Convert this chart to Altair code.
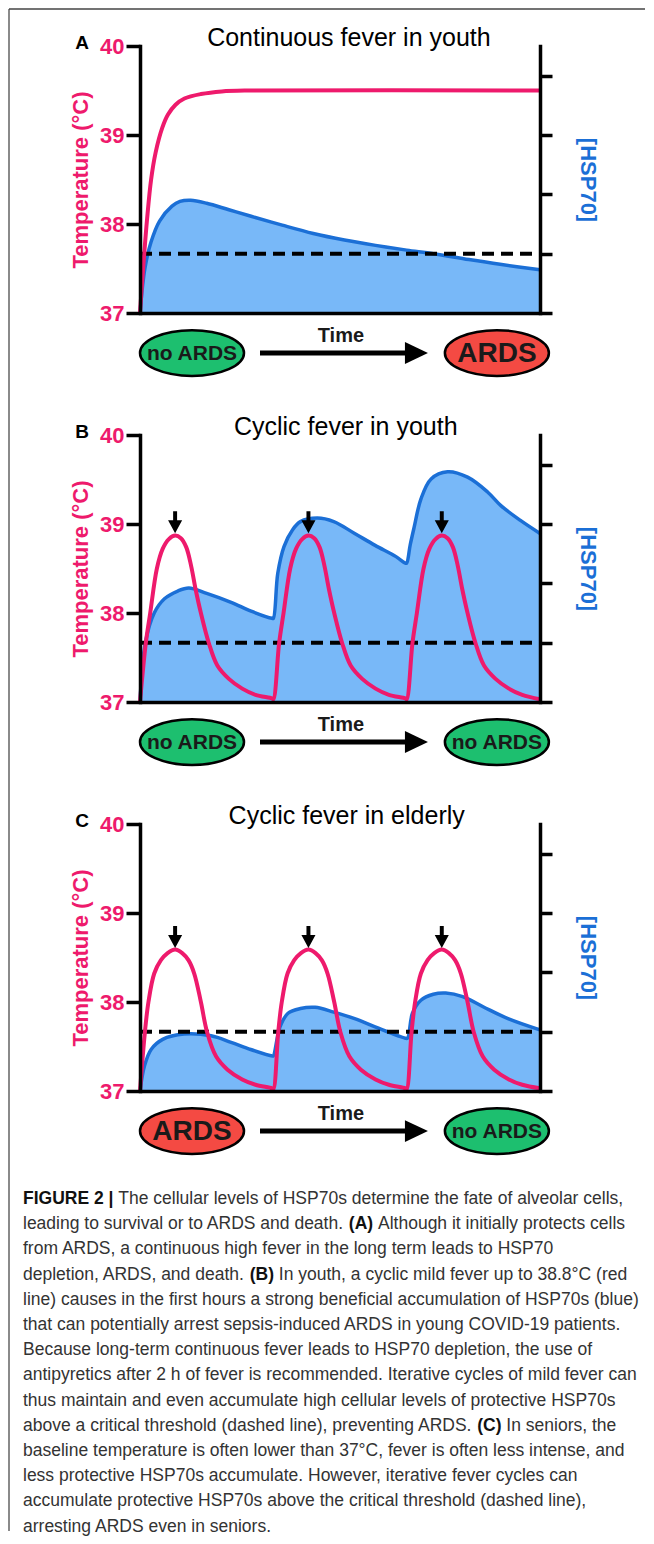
import altair as alt
import pandas as pd

FONT = "Liberation Sans"
PINK = "#ee1a6c"
BLUE_LINE = "#1b6fd6"
BLUE_FILL = "#78b8f8"
GREEN = "#1dbf6f"
RED = "#f44a43"
INTERP = "catmull-rom"

# ---------------- data ----------------
# Panel A: continuous fever in youth
A_T_TEMP = [0, 0.07, 0.16, 0.25, 0.35, 0.5, 0.63, 0.8, 1.0, 1.37, 1.84, 2.5, 9.0]
A_TEMP = [37.0, 37.5, 38.06, 38.5, 38.8, 39.08, 39.23, 39.34, 39.41, 39.46, 39.49, 39.5, 39.5]
A_T_HSP = [0, 0.11, 0.25, 0.44, 0.72, 0.9, 1.14, 1.5, 2.0, 2.5, 3.2, 3.9, 4.6, 5.3, 6.0, 6.6, 7.4, 8.1, 9.0]
A_HSP = [0, 0.75, 1.2, 1.55, 1.8, 1.88, 1.9, 1.85, 1.74, 1.63, 1.48, 1.34, 1.23, 1.14, 1.06, 1.0, 0.9, 0.82, 0.73]

# Panel B: cyclic fever in youth
B_T_TEMP = [0, 0.13, 0.23, 0.38, 0.51, 0.65, 0.79, 0.92, 1.04, 1.15, 1.25, 1.37, 1.55, 1.74, 2.0, 2.3, 2.6, 2.97,
            3.0, 3.13, 3.23, 3.38, 3.51, 3.65, 3.79, 3.92, 4.04, 4.15, 4.25, 4.37, 4.55, 4.74, 5.0, 5.3, 5.6, 5.97,
            6.0, 6.13, 6.23, 6.38, 6.51, 6.65, 6.79, 6.92, 7.04, 7.15, 7.25, 7.37, 7.55, 7.74, 8.0, 8.3, 8.6, 9.0]
B_TEMP = [37.0, 37.66, 38.0, 38.5, 38.72, 38.83, 38.87, 38.84, 38.74, 38.53, 38.27, 38.0, 37.66, 37.41, 37.26, 37.15, 37.08, 37.04,
          37.03, 37.66, 38.0, 38.5, 38.72, 38.83, 38.87, 38.84, 38.74, 38.53, 38.27, 38.0, 37.66, 37.41, 37.26, 37.15, 37.08, 37.04,
          37.03, 37.66, 38.0, 38.5, 38.72, 38.83, 38.87, 38.84, 38.74, 38.53, 38.27, 38.0, 37.66, 37.41, 37.26, 37.15, 37.08, 37.03]
B_T_HSP = [0, 0.12, 0.32, 0.55, 0.85, 1.1, 1.5, 2.05, 2.5, 2.97,
           3.0, 3.1, 3.24, 3.43, 3.61, 3.99, 4.36, 4.83, 5.29, 5.76, 5.97,
           6.0, 6.08, 6.17, 6.32, 6.55, 6.92, 7.37, 7.82, 8.12, 8.56, 9.0]
B_HSP = [0, 1.0, 1.5, 1.74, 1.87, 1.92, 1.83, 1.68, 1.53, 1.41,
         1.41, 2.17, 2.62, 2.9, 3.04, 3.1, 3.04, 2.84, 2.64, 2.45, 2.34,
         2.34, 2.65, 2.95, 3.42, 3.76, 3.88, 3.79, 3.54, 3.31, 3.06, 2.84]

# Panel C: cyclic fever in elderly
C_T_TEMP = [0, 0.11, 0.19, 0.32, 0.47, 0.62, 0.79, 0.95, 1.09, 1.22, 1.37, 1.51, 1.71, 1.97, 2.3, 2.6, 2.97,
            3.0, 3.11, 3.19, 3.32, 3.47, 3.62, 3.79, 3.95, 4.09, 4.22, 4.37, 4.51, 4.71, 4.97, 5.3, 5.6, 5.97,
            6.0, 6.11, 6.19, 6.32, 6.47, 6.62, 6.79, 6.95, 7.09, 7.22, 7.37, 7.51, 7.71, 7.97, 8.3, 8.6, 9.0]
C_TEMP = [37.0, 37.66, 38.0, 38.32, 38.47, 38.55, 38.59, 38.55, 38.47, 38.32, 38.0, 37.66, 37.39, 37.24, 37.13, 37.07, 37.03,
          37.02, 37.66, 38.0, 38.32, 38.47, 38.55, 38.59, 38.55, 38.47, 38.32, 38.0, 37.66, 37.39, 37.24, 37.13, 37.07, 37.03,
          37.02, 37.66, 38.0, 38.32, 38.47, 38.55, 38.59, 38.55, 38.47, 38.32, 38.0, 37.66, 37.39, 37.24, 37.13, 37.07, 37.03]
C_T_HSP = [0, 0.1, 0.25, 0.51, 0.99, 1.6, 2.05, 2.49, 2.98,
           3.0, 3.15, 3.33, 3.61, 3.94, 4.36, 4.83, 5.29, 5.97,
           6.02, 6.13, 6.32, 6.6, 6.88, 7.26, 7.72, 8.28, 9.0]
C_HSP = [0, 0.42, 0.7, 0.87, 0.96, 0.93, 0.82, 0.7, 0.59,
         0.59, 1.08, 1.31, 1.39, 1.41, 1.33, 1.22, 1.08, 0.89,
         0.89, 1.31, 1.53, 1.63, 1.65, 1.59, 1.42, 1.22, 1.03]

THRESHOLD_HSP = 1.0
TEMP_TICKS = [37, 38, 39, 40]
HSP_TICKS = [0, 1, 2, 3, 4]

B_ARROW_T = [0.79, 3.79, 6.79]
B_ARROW_TEMP = [39.02, 39.02, 39.02]
C_ARROW_T = [0.79, 3.79, 6.79]
C_ARROW_TEMP = [38.73, 38.73, 38.73]

TITLES = ["Continuous fever in youth", "Cyclic fever in youth", "Cyclic fever in elderly"]
LETTERS = ["A", "B", "C"]
OUTCOMES = [["no ARDS", "ARDS"], ["no ARDS", "no ARDS"], ["ARDS", "no ARDS"]]

CAPTION = [
    [("FIGURE 2 | ", True), ("The cellular levels of HSP70s determine the fate of alveolar cells,", False)],
    [("leading to survival or to ARDS and death. ", False), ("(A)", True), (" Although it initially protects cells", False)],
    [("from ARDS, a continuous high fever in the long term leads to HSP70", False)],
    [("depletion, ARDS, and death. ", False), ("(B)", True), (" In youth, a cyclic mild fever up to 38.8°C (red", False)],
    [("line) causes in the first hours a strong beneficial accumulation of HSP70s (blue)", False)],
    [("that can potentially arrest sepsis-induced ARDS in young COVID-19 patients.", False)],
    [("Because long-term continuous fever leads to HSP70 depletion, the use of", False)],
    [("antipyretics after 2 h of fever is recommended. Iterative cycles of mild fever can", False)],
    [("thus maintain and even accumulate high cellular levels of protective HSP70s", False)],
    [("above a critical threshold (dashed line), preventing ARDS. ", False), ("(C)", True), (" In seniors, the", False)],
    [("baseline temperature is often lower than 37°C, fever is often less intense, and", False)],
    [("less protective HSP70s accumulate. However, iterative fever cycles can", False)],
    [("accumulate protective HSP70s above the critical threshold (dashed line),", False)],
    [("arresting ARDS even in seniors.", False)],
]

# ---------------- styling / layout ----------------
W, H = 400, 267
SPACING = 122
ELL_T = [1.17, 8.03]
ELL_TEMP = 36.55
ELLIPSE = "M -1 0 A 1 0.44 0 1 1 1 0 A 1 0.44 0 1 1 -1 0 Z"
DOWN_ARROW = "M -0.18 -1 L 0.18 -1 L 0.18 -0.18 L 0.64 -0.18 L 0 1 L -0.64 -0.18 L -0.18 -0.18 Z"
RIGHT_HEAD = "M -1 -0.95 L 1 0 L -1 0.95 Z"

xs = alt.Scale(domain=[0, 9], nice=False, zero=False)
ys = alt.Scale(domain=[37, 40], nice=False, zero=False)
hs = alt.Scale(domain=[0, 4.5], nice=False, zero=False)

x_axis = alt.Axis(title=None, labels=False, ticks=False, grid=False, domain=True,
                  domainColor="black", domainWidth=3.5, zindex=2)
y_axis = alt.Axis(title="Temperature (°C)", values=TEMP_TICKS, format="d", orient="left", grid=False,
                  domainColor="black", domainWidth=3.5, domainCap="square",
                  tickColor="black", tickWidth=3.5, tickSize=14,
                  labelColor=PINK, labelFont=FONT, labelFontSize=22, labelFontWeight="bold", labelPadding=2,
                  titleColor=PINK, titleFont=FONT, titleFontSize=22, titleFontWeight="bold", titlePadding=7,
                  zindex=2)
h_axis = alt.Axis(title="[HSP70]", values=HSP_TICKS, orient="right", labels=False, grid=False,
                  domainColor="black", domainWidth=3.5, domainCap="square",
                  tickColor="black", tickWidth=3.5, tickSize=12,
                  titleColor=BLUE_LINE, titleFont=FONT, titleFontSize=22, titleFontWeight="bold",
                  titlePadding=22, zindex=2)


def X(field="t"):
    return alt.X(f"{field}:Q", scale=xs, axis=x_axis)


def Yt(field="temp"):
    return alt.Y(f"{field}:Q", scale=ys, axis=y_axis)


def Yh(field="hsp"):
    return alt.Y(f"{field}:Q", scale=hs, axis=h_axis)


def panel(idx, t_temp, temp, t_hsp, hsp, title_t, arrow_t=None, arrow_temp=None):
    dft = pd.DataFrame({"t": t_temp, "temp": temp})
    dfh = pd.DataFrame({"t": t_hsp, "hsp": hsp})
    thr = pd.DataFrame({"t0": [0], "t1": [9], "hsp": [THRESHOLD_HSP]})

    area = alt.Chart(dfh).mark_area(color=BLUE_FILL, interpolate=INTERP).encode(x=X(), y=Yh())
    bline = alt.Chart(dfh).mark_line(color=BLUE_LINE, strokeWidth=3.5, interpolate=INTERP).encode(x=X(), y=Yh())
    dashed = alt.Chart(thr).mark_rule(color="black", strokeWidth=4, strokeDash=[12, 7]).encode(
        x=X("t0"), x2="t1:Q", y=Yh())
    right = alt.layer(area, bline, dashed)

    pline = alt.Chart(dft).mark_line(color=PINK, strokeWidth=4, interpolate=INTERP).encode(x=X(), y=Yt())
    layers = [pline]
    if arrow_t is not None:
        dfa = pd.DataFrame({"t": arrow_t, "temp": arrow_temp})
        layers.append(alt.Chart(dfa).mark_point(shape=DOWN_ARROW, filled=True, size=484, color="black",
                                                 opacity=1).encode(x=X(), y=Yt()))
    labels = OUTCOMES[idx]
    dfe = pd.DataFrame({"t": ELL_T, "temp": [ELL_TEMP, ELL_TEMP], "label": labels,
                        "col": [GREEN if l == "no ARDS" else RED for l in labels],
                        "fs": [21 if l == "no ARDS" else 28 for l in labels]})
    layers.append(alt.Chart(dfe).mark_point(shape=ELLIPSE, filled=True, size=10816, stroke="black",
                                            strokeWidth=2.5, opacity=1).encode(
        x=X(), y=Yt(), fill=alt.Fill("col:N", scale=None)))
    layers.append(alt.Chart(dfe).mark_text(font=FONT, fontWeight="bold", color="#1a1a1a",
                                           baseline="middle", align="center", dy=1).encode(
        x=X(), y=Yt(), text="label:N", size=alt.Size("fs:Q", scale=None)))
    # time arrow
    dfr = pd.DataFrame({"t0": [2.7], "t1": [6.1], "temp": [ELL_TEMP]})
    layers.append(alt.Chart(dfr).mark_rule(color="black", strokeWidth=5).encode(
        x=X("t0"), x2="t1:Q", y=Yt()))
    dfhd = pd.DataFrame({"t": [6.22], "temp": [ELL_TEMP]})
    layers.append(alt.Chart(dfhd).mark_point(shape=RIGHT_HEAD, filled=True, size=529, color="black",
                                             opacity=1).encode(x=X(), y=Yt()))
    dftx = pd.DataFrame({"t": [4.52], "temp": [36.74], "label": ["Time"]})
    layers.append(alt.Chart(dftx).mark_text(font=FONT, fontWeight="bold", fontSize=20, color="#1a1a1a",
                                            baseline="middle").encode(x=X(), y=Yt(), text="label:N"))
    # panel title and letter
    dftt = pd.DataFrame({"t": [title_t], "temp": [40.09], "label": [TITLES[idx]]})
    layers.append(alt.Chart(dftt).mark_text(font=FONT, fontSize=25, color="black",
                                            baseline="middle").encode(x=X(), y=Yt(), text="label:N"))
    dfl = pd.DataFrame({"t": [-1.305], "temp": [40.03], "label": [LETTERS[idx]]})
    layers.append(alt.Chart(dfl).mark_text(font=FONT, fontWeight="bold", fontSize=19, color="black",
                                           baseline="middle").encode(x=X(), y=Yt(), text="label:N"))
    left = alt.layer(*layers)
    return alt.layer(right, left).resolve_scale(y="independent").properties(width=W, height=H)


pA = panel(0, A_T_TEMP, A_TEMP, A_T_HSP, A_HSP, 4.7)
pB = panel(1, B_T_TEMP, B_TEMP, B_T_HSP, B_HSP, 4.63, B_ARROW_T, B_ARROW_TEMP)
pC = panel(2, C_T_TEMP, C_TEMP, C_T_HSP, C_HSP, 4.65, C_ARROW_T, C_ARROW_TEMP)

# ---------------- caption ----------------
FS = 17.5
REG = {' ': 278, ',': 278, '.': 278, '(': 333, ')': 333, '-': 333, '|': 260, '°': 400}
for d in "0123456789":
    REG[d] = 556
REG.update(dict(zip("ABCDEFGHIJKLMNOPQRSTUVWXYZ",
                    [667, 667, 722, 722, 667, 611, 778, 722, 278, 500, 667, 556, 833, 722, 778, 667, 778, 722,
                     667, 611, 722, 667, 944, 667, 667, 611])))
REG.update(dict(zip("abcdefghijklmnopqrstuvwxyz",
                    [556, 556, 500, 556, 556, 278, 556, 556, 222, 222, 500, 222, 833, 556, 556, 556, 556, 333,
                     500, 278, 556, 500, 722, 500, 500, 500])))
BOLD = {' ': 278, '(': 333, ')': 333, '|': 280}
for d in "0123456789":
    BOLD[d] = 556
BOLD.update(dict(zip("ABCDEFGHIJKLMNOPQRSTUVWXYZ",
                     [722, 722, 722, 722, 667, 611, 778, 722, 278, 556, 722, 611, 833, 722, 778, 667, 778, 722,
                      667, 611, 722, 667, 944, 667, 667, 611])))


def tw(s, bold):
    tab = BOLD if bold else REG
    return sum(tab.get(c, 556) for c in s) / 1000.0 * FS


CAP_X0 = -117
rows = []
for i, segs in enumerate(CAPTION):
    x = 0.0
    for text, bold in segs:
        lead = len(text) - len(text.lstrip(" "))
        rows.append({"line": i, "x": CAP_X0 + x + tw(" " * lead, bold), "text": text.strip(), "bold": bold})
        x += tw(text, bold)
cap = pd.DataFrame(rows)

cx = alt.X("x:Q", scale=alt.Scale(domain=[0, 400], range=[0, 400], nice=False, zero=False), axis=None)
cy = alt.Y("line:Q", scale=alt.Scale(domain=[0, 13], range=[-14, 313.6], nice=False, zero=False), axis=None)
cap_norm = alt.Chart(cap[~cap["bold"]]).mark_text(font=FONT, fontSize=FS, color="#333333", align="left",
                                                  baseline="middle").encode(x=cx, y=cy, text="text:N")
cap_bold = alt.Chart(cap[cap["bold"]]).mark_text(font=FONT, fontSize=FS, fontWeight="bold", color="#111111",
                                                 align="left", baseline="middle").encode(x=cx, y=cy, text="text:N")
one = pd.DataFrame({"a": [0]})
frame_left = alt.Chart(one).mark_rule(color="#8a8a8a", strokeWidth=2).encode(
    x=alt.value(-131), y=alt.value(-1204), y2=alt.value(318))
frame_top = alt.Chart(one).mark_rule(color="#444444", strokeWidth=1.5).encode(
    x=alt.value(-131), x2=alt.value(505), y=alt.value(-1204))
caption = alt.layer(frame_left, frame_top, cap_norm, cap_bold).properties(width=W, height=300)

chart = alt.vconcat(pA, pB, pC, caption, spacing=SPACING, bounds="flush").properties(
    padding=0, background="white"
).configure_view(stroke=None).configure_text(font=FONT)

chart.save("out.html", embed_options={"renderer": "svg", "actions": False})
